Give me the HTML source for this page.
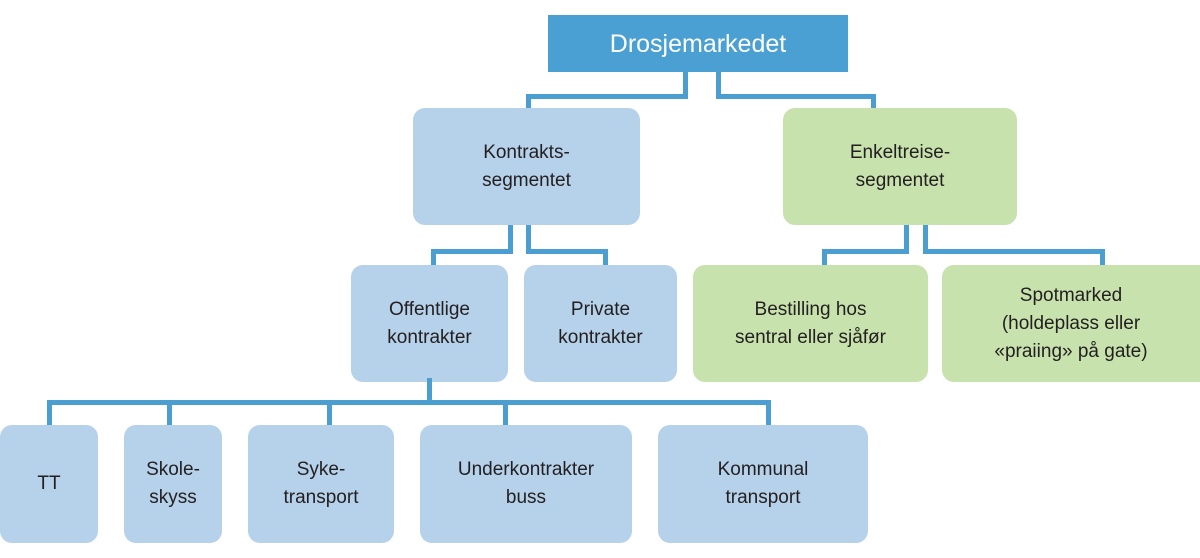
<!DOCTYPE html>
<html><head><meta charset="utf-8"><style>
body{margin:0;width:1200px;height:558px;background:#fff;position:relative;overflow:hidden;font-family:"Liberation Sans",sans-serif;}
.b{position:absolute;display:flex;align-items:center;justify-content:center;text-align:center;font-size:19px;line-height:28px;color:#231f20;border-radius:12px;background:#b6d1ea;}
.g{background:#c8e2ae;}
.l{position:absolute;background:#4a9fd0;}
</style></head><body>
<div class="b" style="left:548px;top:15px;width:300px;height:57px;background:#4aa0d2;color:#fff;font-size:25px;border-radius:0">Drosjemarkedet</div>
<div class="l" style="left:683px;top:72px;width:5px;height:27px"></div>
<div class="l" style="left:526px;top:94px;width:162px;height:5px"></div>
<div class="l" style="left:526px;top:94px;width:5px;height:14px"></div>
<div class="l" style="left:716px;top:72px;width:5px;height:27px"></div>
<div class="l" style="left:716px;top:94px;width:160px;height:5px"></div>
<div class="l" style="left:871px;top:94px;width:5px;height:14px"></div>
<div class="b" style="left:413px;top:108px;width:227px;height:117px">Kontrakts-<br>segmentet</div>
<div class="b g" style="left:783px;top:108px;width:234px;height:117px">Enkeltreise-<br>segmentet</div>
<div class="l" style="left:508px;top:225px;width:5px;height:29px"></div>
<div class="l" style="left:431px;top:249px;width:82px;height:5px"></div>
<div class="l" style="left:431px;top:249px;width:5px;height:16px"></div>
<div class="l" style="left:526px;top:225px;width:5px;height:29px"></div>
<div class="l" style="left:526px;top:249px;width:82px;height:5px"></div>
<div class="l" style="left:603px;top:249px;width:5px;height:16px"></div>
<div class="l" style="left:904px;top:225px;width:5px;height:29px"></div>
<div class="l" style="left:822px;top:249px;width:87px;height:5px"></div>
<div class="l" style="left:822px;top:249px;width:5px;height:16px"></div>
<div class="l" style="left:923px;top:225px;width:5px;height:29px"></div>
<div class="l" style="left:923px;top:249px;width:182px;height:5px"></div>
<div class="l" style="left:1100px;top:249px;width:5px;height:16px"></div>
<div class="b" style="left:351px;top:265px;width:157px;height:117px">Offentlige<br>kontrakter</div>
<div class="b" style="left:524px;top:265px;width:153px;height:117px">Private<br>kontrakter</div>
<div class="b g" style="left:693px;top:265px;width:235px;height:117px">Bestilling hos<br>sentral eller sjåfør</div>
<div class="b g" style="left:942px;top:265px;width:270px;height:117px;justify-content:flex-start"><div style="width:258px">Spotmarked<br>(holdeplass eller<br>«praiing» på gate)</div></div>
<div class="l" style="left:427px;top:378px;width:5px;height:24px"></div>
<div class="l" style="left:47px;top:400px;width:724px;height:5px"></div>
<div class="l" style="left:47px;top:400px;width:5px;height:25px"></div>
<div class="l" style="left:167px;top:400px;width:5px;height:25px"></div>
<div class="l" style="left:327px;top:400px;width:5px;height:25px"></div>
<div class="l" style="left:503px;top:400px;width:5px;height:25px"></div>
<div class="l" style="left:766px;top:400px;width:5px;height:25px"></div>
<div class="b" style="left:0;top:425px;width:98px;height:118px">TT</div>
<div class="b" style="left:124px;top:425px;width:98px;height:118px">Skole-<br>skyss</div>
<div class="b" style="left:248px;top:425px;width:146px;height:118px">Syke-<br>transport</div>
<div class="b" style="left:420px;top:425px;width:212px;height:118px">Underkontrakter<br>buss</div>
<div class="b" style="left:658px;top:425px;width:210px;height:118px">Kommunal<br>transport</div>
</body></html>
